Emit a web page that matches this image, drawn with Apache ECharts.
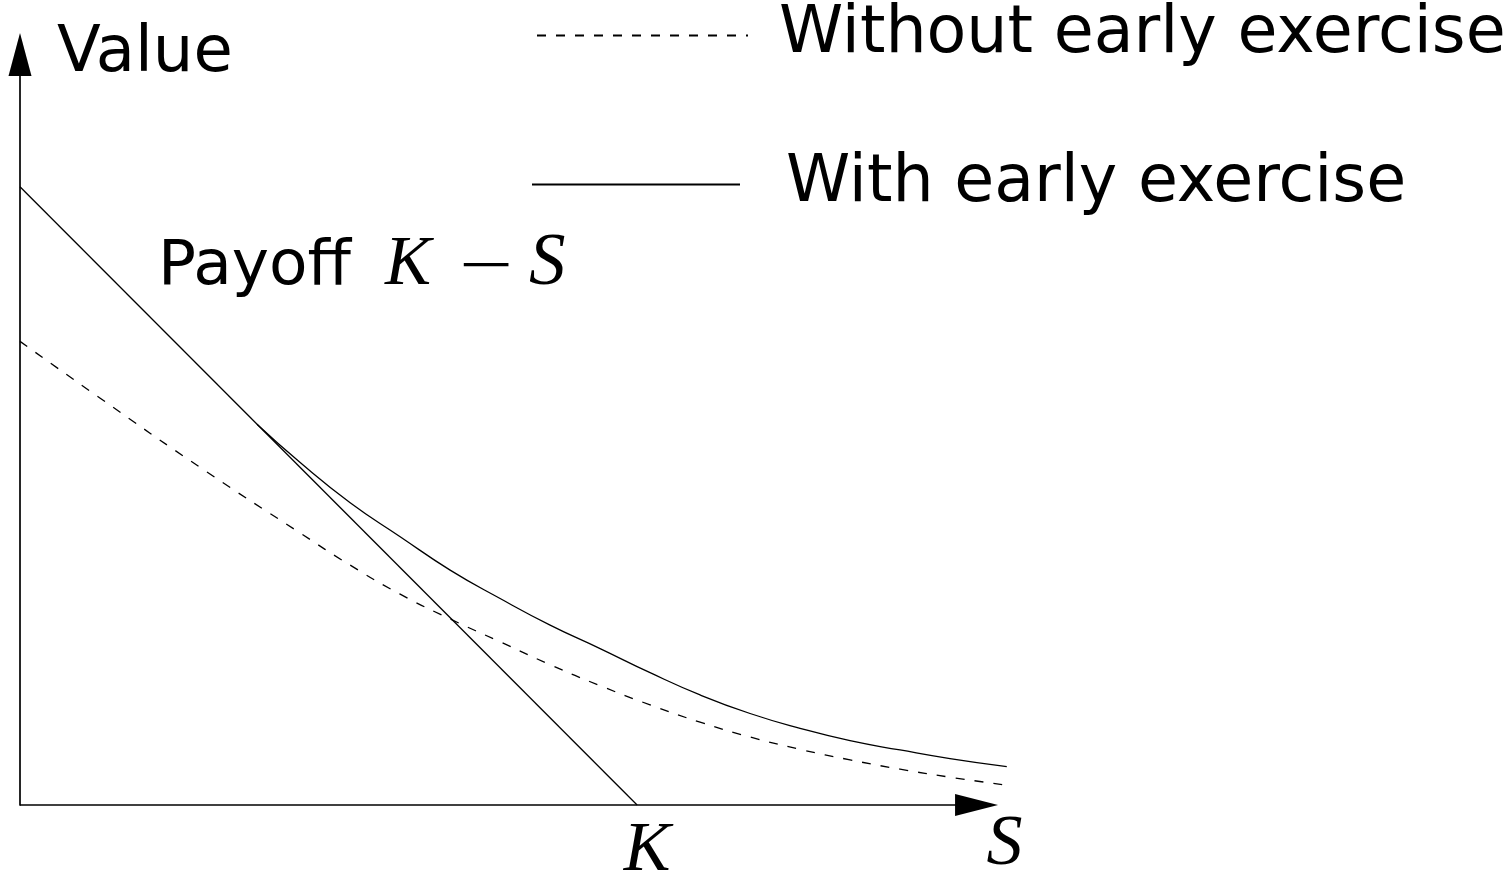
<!DOCTYPE html>
<html>
<head>
<meta charset="utf-8">
<script src="https://cdn.jsdelivr.net/npm/echarts@6/dist/echarts.min.js"></script>
<style>
  html, body { margin: 0; padding: 0; background: #fff; }
  #chart { width: 1510px; height: 877px; }
</style>
</head>
<body>
<div id="chart"></div>
<script>
// Strike price K and the payoff line K - S
const strike = 100;
const payoffS = [0, 100];
const payoffV = [100, 0];

// Put value without early exercise (European)
const euroS = [0, 13.0, 29.2, 45.4, 53.5, 61.6, 69.7, 77.8, 85.9, 94.0, 102.1, 110.2, 118.3, 126.4, 134.5, 142.6, 150.7, 159.9];
const euroV = [75.0, 65.8, 54.6, 44.0, 38.8, 34.1, 30.1, 26.4, 22.7, 19.3, 16.2, 13.4, 11.0, 9.0, 7.3, 5.8, 4.5, 3.2];

// Put value with early exercise (American), from where it leaves the payoff line
const amerS = [38.4, 45.4, 53.5, 61.6, 69.7, 77.8, 85.9, 94.0, 102.1, 110.2, 118.3, 126.4, 134.5, 142.6, 150.7, 159.9];
const amerV = [61.6, 55.4, 48.9, 43.4, 38.0, 33.4, 29.1, 25.3, 21.4, 17.8, 14.8, 12.4, 10.4, 8.9, 7.5, 6.2];

const seriesNames = ['Without early exercise', 'With early exercise'];
const xMax = 160;     // horizontal extent of the plot
const xArrow = 155;   // where the S-axis arrow sits
const yMax = 121.4;

const zip = (xs, ys) => xs.map((x, i) => [x, ys[i]]);

const ink = '#000';
const noDot = { color: 'rgba(0,0,0,0)', borderColor: 'rgba(0,0,0,0)', borderWidth: 0 };

const chart = echarts.init(document.getElementById('chart'));
chart.setOption({
  animation: false,
  backgroundColor: '#ffffff',
  grid: { left: 20, right: 502.6, top: 54.5, bottom: 72, outerBoundsMode: 'none', containLabel: false },
  xAxis: {
    type: 'value', min: 0, max: xMax,
    name: 'S', nameLocation: 'end', nameGap: -3,
    nameTextStyle: {
      fontFamily: 'Liberation Serif', fontStyle: 'italic', fontSize: 72, color: ink,
      align: 'center', verticalAlign: 'top', padding: [4, 0, 0, 0]
    },
    axisLine: { show: false },
    axisTick: { show: false },
    splitLine: { show: false },
    axisLabel: {
      customValues: [strike], formatter: () => 'K', margin: 12, padding: [0, 0, 0, 20],
      fontFamily: 'Liberation Serif', fontStyle: 'italic', fontSize: 70, color: ink
    }
  },
  yAxis: {
    type: 'value', min: 0, max: yMax,
    name: 'Value', nameLocation: 'end', nameGap: 0,
    nameTextStyle: {
      fontFamily: 'DejaVu Sans', fontSize: 64, color: ink,
      align: 'left', verticalAlign: 'middle', padding: [0, 0, 0, 37]
    },
    axisLine: { show: true, lineStyle: { color: ink, width: 1.7 }, symbol: ['none', 'triangle'], symbolSize: [23, 43] },
    axisTick: { show: false },
    splitLine: { show: false },
    axisLabel: { show: false }
  },
  legend: [
    {
      data: [seriesNames[0]], left: 536, top: 0, padding: 0, orient: 'vertical', selectedMode: false,
      itemWidth: 211, itemHeight: 14, itemStyle: noDot,
      textStyle: { fontFamily: 'DejaVu Sans', fontSize: 65, color: ink, lineHeight: 65, padding: [6, 0, 0, 26] }
    },
    {
      data: [seriesNames[1]], left: 531, top: 152, padding: 0, orient: 'vertical', selectedMode: false,
      itemWidth: 208, itemHeight: 14, itemStyle: noDot,
      textStyle: { fontFamily: 'DejaVu Sans', fontSize: 65, color: ink, lineHeight: 65, padding: [0, 0, 0, 41] }
    }
  ],
  graphic: [
    { type: 'text', x: 158, y: 268, silent: true,
      style: { text: 'Payoff', fontFamily: 'DejaVu Sans', fontSize: 63, fill: ink, verticalAlign: 'middle' } },
    { type: 'text', x: 385, y: 266, silent: true,
      style: { text: 'K', fontFamily: 'Liberation Serif', fontStyle: 'italic', fontSize: 69, fill: ink, verticalAlign: 'middle' } },
    { type: 'text', x: 459, y: 269, scaleX: 1.5, silent: true,
      style: { text: '\u2212', fontFamily: 'Liberation Serif', fontSize: 64, fill: ink, verticalAlign: 'middle' } },
    { type: 'text', x: 529, y: 265, silent: true,
      style: { text: 'S', fontFamily: 'Liberation Serif', fontStyle: 'italic', fontSize: 73, fill: ink, verticalAlign: 'middle' } }
  ],
  series: [
    {
      name: seriesNames[0], type: 'line', data: zip(euroS, euroV),
      showSymbol: false, symbol: 'none', smooth: 0.5,
      lineStyle: { color: ink, width: 1.3, type: [9, 10] }, itemStyle: { color: ink }
    },
    {
      name: seriesNames[1], type: 'line', data: zip(amerS, amerV),
      showSymbol: false, symbol: 'none', smooth: 0.5,
      lineStyle: { color: ink, width: 1.3 }, itemStyle: { color: ink }
    },
    {
      name: 'Payoff', type: 'line', data: zip(payoffS, payoffV),
      showSymbol: false, symbol: 'none',
      lineStyle: { color: ink, width: 1.3 }, itemStyle: { color: ink },
      // the S axis with its arrow head
      markLine: {
        silent: true, animation: false,
        symbol: ['none', 'triangle'], symbolSize: [22, 43],
        label: { show: false },
        lineStyle: { type: 'solid', color: ink, width: 1.7 },
        emphasis: { disabled: true },
        data: [[{ coord: [0, 0] }, { coord: [xArrow, 0] }]]
      }
    }
  ]
});
</script>
</body>
</html>
